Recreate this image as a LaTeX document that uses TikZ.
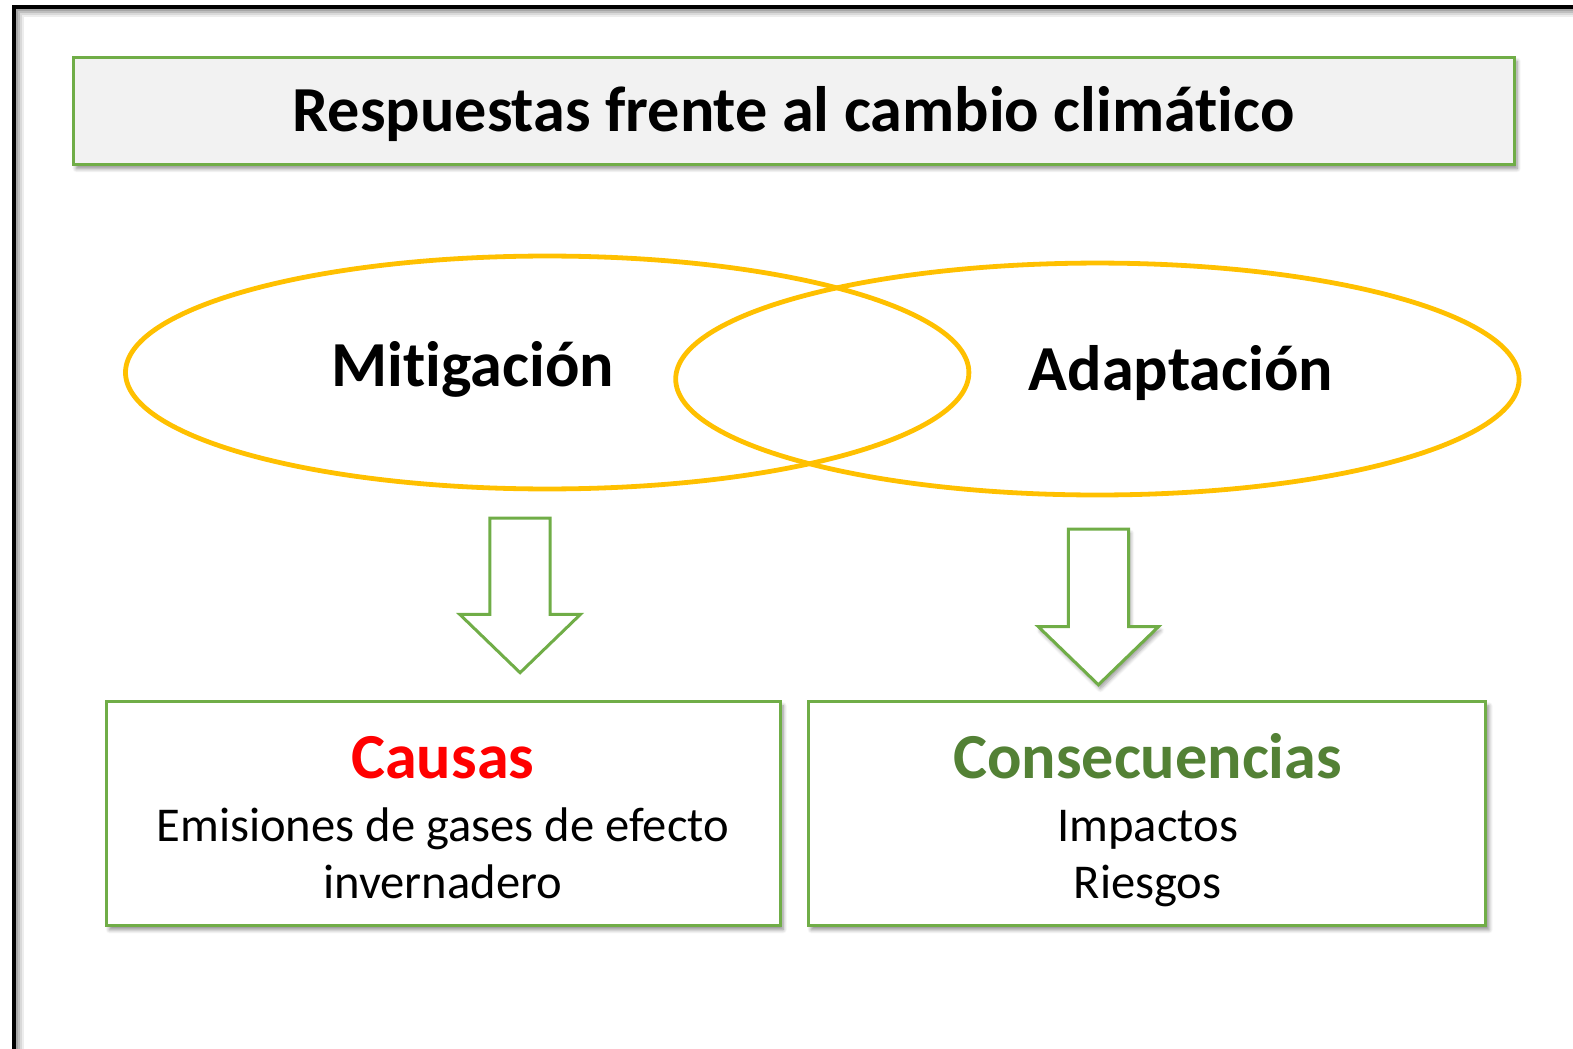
\documentclass[tikz,border=0pt]{standalone}
\usepackage{fontspec}
\setmainfont{Carlito}[Ligatures=NoCommon]
\usetikzlibrary{shadows.blur,shapes.geometric}
\definecolor{gborder}{HTML}{70AD47}
\definecolor{ellcol}{HTML}{FFC000}
\definecolor{titlefill}{HTML}{F2F2F2}
\definecolor{darkgreen}{HTML}{538135}
\tikzset{
  gbox/.style={draw=gborder, line width=1.5pt, rectangle,
    blur shadow={shadow xshift=1.5pt, shadow yshift=-2pt, shadow blur steps=6, shadow opacity=45}},
  venn/.style={draw=ellcol, line width=2.4pt, ellipse},
  blockarrow/.style={draw=gborder, line width=1.5pt, fill=white, line join=miter},
  bigtxt/.style={font=\fontsize{32.1}{38}\selectfont\bfseries, anchor=base, inner sep=0pt},
  smalltxt/.style={font=\fontsize{24.3}{28.5}\selectfont, anchor=base, inner sep=0pt, align=center},
}
\begin{document}
\begin{tikzpicture}[x=0.502pt, y=-0.502pt]
% outer frame with inner shadow
\foreach \d/\o in {3/0.35,5/0.25,7/0.15,9/0.07}{
  \draw[black, opacity=\o, line width=1.2pt] (14+\d,1048) -- (14+\d,7+\d) -- (1573,7+\d);
}
\draw[black, line width=2pt] (14,1048) -- (14,7) -- (1573,7);
% title
\node[gbox, fill=titlefill, minimum width=1435*0.502pt, minimum height=107*0.502pt] (title) at (790.5,110.5) {};
\node[bigtxt] (titletxt) at (790.5,131) {Respuestas frente al cambio climático};
% ellipses
\node[venn, minimum width=840*0.502pt, minimum height=232*0.502pt] (mit) at (545,371) {};
\node[venn, minimum width=840*0.502pt, minimum height=231*0.502pt] (ada) at (1093,377.5) {};
\node[bigtxt] (mittxt) at (471,385) {Mitigación};
\node[bigtxt] (adatxt) at (1176,389) {Adaptación};
% block arrows
\draw[blockarrow] (488,516) -- (548,516) -- (548,612) -- (578,612) -- (518,670) -- (458,612) -- (488,612) -- cycle;
\draw[blockarrow, blur shadow={shadow xshift=1pt, shadow yshift=-2pt, shadow blur steps=6, shadow opacity=40}] (1064,527) -- (1124,527) -- (1124,624) -- (1154,624) -- (1094,682) -- (1034,624) -- (1064,624) -- cycle;
% bottom boxes
\node[gbox, fill=white, minimum width=671*0.502pt, minimum height=223*0.502pt] (causas) at (441.5,810.5) {};
\node[gbox, fill=white, minimum width=675*0.502pt, minimum height=223*0.502pt] (conse) at (1142.5,810.5) {};
\node[bigtxt, text=red] (causastxt) at (441,775) {Causas};
\node[smalltxt] (emis) at (441,838) {Emisiones de gases de efecto};
\node[smalltxt] (inver) at (441,895) {invernadero};
\node[bigtxt, text=darkgreen] (consetxt) at (1143,775) {Consecuencias};
\node[smalltxt] (impac) at (1143,838) {Impactos};
\node[smalltxt] (riesg) at (1143,895) {Riesgos};
\pgfresetboundingbox
\useasboundingbox (0,0) rectangle (1566.7,1043.8);
\end{tikzpicture}
\end{document}
